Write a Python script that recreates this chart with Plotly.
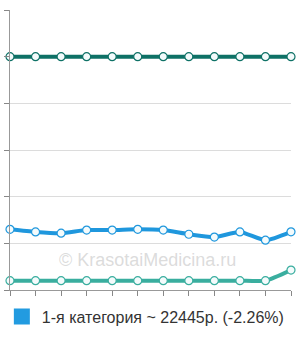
import plotly.graph_objects as go

x_idx = list(range(12))
top_series = [90000] * 12
blue_series = [23400, 22400, 21900, 23100, 23100, 23400, 23100, 21500, 20400, 22400, 19200, 22445]
teal_series = [3600, 3600, 3600, 3600, 3600, 3600, 3600, 3600, 3600, 3600, 3600, 7700]
legend_label = "1-я категория ~ 22445р. (-2.26%)"

dark_green = "#0e7166"
blue = "#1f97dd"
teal = "#3aae9f"

fig = go.Figure()

def add_line(y, color):
    fig.add_trace(go.Scatter(
        x=x_idx, y=y, mode="lines+markers",
        line=dict(color=color, width=4, shape="spline", smoothing=0.6),
        marker=dict(size=8, color="#f4fbfc", line=dict(color=color, width=1.2)),
        showlegend=False, cliponaxis=False, hoverinfo="skip",
    ))

add_line(top_series, dark_green)
add_line(blue_series, blue)
add_line(teal_series, teal)

fig.add_trace(go.Scatter(
    x=[None], y=[None], mode="markers",
    marker=dict(symbol="square", size=16, color="#229be0"),
    name=legend_label, showlegend=True,
))

fig.add_annotation(
    text="© KrasotaiMedicina.ru", x=0.49, y=(290 - 272) / 280, xref="paper", yref="paper",
    showarrow=False, font=dict(family="Liberation Sans, Arial", size=18, color="rgba(190,190,190,0.55)"),
)

fig.update_layout(
    width=300, height=340,
    margin=dict(l=10, r=9, t=10, b=50, autoexpand=False),
    paper_bgcolor="white", plot_bgcolor="white",
    font=dict(family="Liberation Sans, Arial", size=16, color="#333"),
    legend=dict(orientation="h", x=-0.029, xanchor="left", y=-0.034, yanchor="top",
                font=dict(size=16, color="#333"), itemwidth=30),
    xaxis=dict(range=[0, 11], showgrid=False, zeroline=False, showticklabels=False,
               ticks="outside", ticklen=5, tickcolor="#888", tickvals=x_idx,
               showline=True, linecolor="#999", linewidth=1),
    yaxis=dict(range=[0, 108000], dtick=18000, showgrid=True, gridcolor="#dcdcdc",
               zeroline=False, showticklabels=False, ticks="outside", ticklen=5,
               tickcolor="#888", showline=True, linecolor="#999", linewidth=1),
)

fig.write_html("out.html")
